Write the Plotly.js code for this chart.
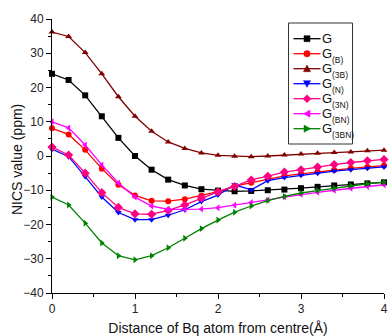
<!DOCTYPE html>
<html>
<head>
<meta charset="utf-8">
<script src="https://cdn.plot.ly/plotly-3.0.1.min.js"></script>
<style>html,body{margin:0;padding:0;background:#fff;}#chart{width:389px;height:336px;}</style>
</head>
<body>
<div id="chart"></div>
<script>
const xDist = [0, 0.2, 0.4, 0.6, 0.8, 1.0, 1.2, 1.4, 1.6, 1.8, 2.0, 2.2, 2.4, 2.6, 2.8, 3.0, 3.2, 3.4, 3.6, 3.8, 4.0];
const seriesBase = ['G', 'G', 'G', 'G', 'G', 'G', 'G'];
const seriesSubs = ['', '(B)', '(3B)', '(N)', '(3N)', '(BN)', '(3BN)'];
const G    = [24.0, 22.2, 17.7, 11.6, 5.3, 0.0, -4.0, -6.9, -8.6, -9.7, -10.1, -10.3, -10.2, -10.0, -9.8, -9.4, -9.0, -8.6, -8.3, -8.0, -7.7];
const G_B  = [8.1, 6.3, 1.8, -3.7, -8.4, -11.5, -13.1, -13.2, -12.6, -11.6, -10.4, -8.8, -7.8, -6.6, -5.8, -5.2, -4.6, -4.1, -3.6, -3.2, -2.8];
const G_3B = [36.2, 34.9, 30.2, 24.0, 17.3, 11.6, 7.2, 4.1, 2.2, 0.9, 0.2, -0.1, -0.2, 0.0, 0.3, 0.6, 0.8, 1.0, 1.2, 1.5, 1.7];
const G_N  = [2.0, -0.2, -6.0, -12.0, -16.5, -18.6, -18.6, -17.3, -15.7, -13.3, -11.4, -8.4, -9.9, -7.2, -6.3, -5.6, -5.0, -4.4, -4.0, -3.6, -3.2];
const G_3N = [2.6, 0.3, -5.0, -10.7, -15.0, -16.9, -17.0, -15.9, -14.3, -12.3, -10.5, -8.9, -7.0, -5.9, -4.7, -4.0, -3.2, -2.5, -1.9, -1.4, -1.0];
const G_BN = [10.0, 8.2, 3.2, -2.6, -7.9, -12.0, -14.6, -15.6, -15.6, -15.5, -15.1, -14.4, -13.6, -12.8, -12.0, -11.2, -10.6, -10.0, -9.4, -8.9, -8.4];
const G_3BN = [-12.0, -14.3, -19.6, -25.4, -29.1, -30.3, -29.1, -26.8, -24.0, -21.2, -18.7, -16.4, -14.6, -13.0, -11.8, -10.8, -10.1, -9.4, -8.7, -8.1, -7.6];

const seriesData = [G, G_B, G_3B, G_N, G_3N, G_BN, G_3BN];
const colors = ['#000000', '#FF0000', '#800000', '#0000FF', '#FF0080', '#FF00FF', '#008000'];
const symbols = ['square', 'circle', 'triangle-up', 'triangle-down', 'diamond', 'triangle-left', 'triangle-right'];
// legend marker outlines in pixels (y up), matching the symbols above
const legendPaths = [
  'M-3,-3H3V3H-3Z',
  null,
  'M-3.6,-3L3.6,-3L0,3.6Z',
  'M-3.6,3L3.6,3L0,-3.6Z',
  'M0,-4L4,0L0,4L-4,0Z',
  'M3,-3.6L3,3.6L-3.6,0Z',
  'M-3,-3.6L-3,3.6L3.6,0Z'
];

const traces = seriesData.map((d, i) => ({
  x: xDist, y: d, name: seriesBase[i] + (seriesSubs[i] ? '<sub>' + seriesSubs[i] + '</sub>' : ''),
  type: 'scatter', mode: 'lines+markers',
  line: {color: colors[i], width: 1.3},
  marker: {color: colors[i], symbol: symbols[i], size: i === 4 ? 7 : 6},
  cliponaxis: false, showlegend: false
}));

// plot area in pixels
const W = 389, H = 336, mL = 52, mR = 5, mT = 19, mB = 43;
const pw = W - mL - mR, ph = H - mT - mB;
const px = p => (p - mL) / pw;
const py = p => (H - mB - p) / ph;

const shapes = [];
const annotations = [];
// legend box
shapes.push({type: 'rect', xref: 'paper', yref: 'paper', x0: px(288.5), x1: px(352.5), y0: py(144), y1: py(23),
  line: {color: '#333', width: 1}, fillcolor: 'rgba(0,0,0,0)'});
seriesBase.forEach((nm, i) => {
  const cy = 38.7 + 15 * i;
  shapes.push({type: 'line', xref: 'paper', yref: 'paper', x0: px(293.5), x1: px(320.5), y0: py(cy), y1: py(cy),
    line: {color: colors[i], width: 1.3}});
  if (legendPaths[i]) {
    shapes.push({type: 'path', xref: 'paper', yref: 'paper', xsizemode: 'pixel', ysizemode: 'pixel',
      xanchor: px(307), yanchor: py(cy), path: legendPaths[i], fillcolor: colors[i], line: {color: colors[i], width: 0.5}});
  } else {
    shapes.push({type: 'circle', xref: 'paper', yref: 'paper', xsizemode: 'pixel', ysizemode: 'pixel',
      xanchor: px(307), yanchor: py(cy), x0: -3.2, x1: 3.2, y0: -3.2, y1: 3.2, fillcolor: colors[i], line: {color: colors[i], width: 0.5}});
  }
  annotations.push({xref: 'paper', yref: 'paper', x: px(321), y: py(cy), xanchor: 'left', yanchor: 'middle',
    text: nm, showarrow: false, font: {size: 13, color: '#111'}, borderpad: 0});
  if (seriesSubs[i]) {
    annotations.push({xref: 'paper', yref: 'paper', x: px(330.5), y: py(cy + 6), xanchor: 'left', yanchor: 'middle',
      text: seriesSubs[i], showarrow: false, font: {size: 8.5, color: '#111'}, borderpad: 0});
  }
});
// y axis title
annotations.push({xref: 'paper', yref: 'paper', x: px(17), y: py(160), xanchor: 'center', yanchor: 'middle',
  text: 'NICS value (ppm)', textangle: -90, showarrow: false, font: {size: 14, color: '#111'}});

const layout = {
  width: W, height: H,
  margin: {l: mL, r: mR, t: mT, b: mB},
  paper_bgcolor: '#fff', plot_bgcolor: '#fff',
  font: {family: 'Liberation Sans, Arial, sans-serif', color: '#222', size: 12},
  showlegend: false,
  shapes: shapes,
  annotations: annotations,
  xaxis: {
    range: [0, 4], dtick: 1, tick0: 0, showgrid: false, zeroline: false,
    showline: true, linecolor: '#000', linewidth: 1,
    ticks: 'outside', ticklen: 5, tickcolor: '#000',
    minor: {ticks: 'outside', ticklen: 3, dtick: 0.5, tickcolor: '#000', showgrid: false},
    tickfont: {size: 12},
    title: {text: 'Distance of Bq atom from centre(Å)', font: {size: 14, color: '#111'}, standoff: 8}
  },
  yaxis: {
    range: [-40, 40], dtick: 10, showgrid: false, zeroline: false,
    showline: true, linecolor: '#000', linewidth: 1,
    ticks: 'outside', ticklen: 5, tickcolor: '#000',
    minor: {ticks: 'outside', ticklen: 3, dtick: 5, tickcolor: '#000', showgrid: false},
    tickfont: {size: 12}
  }
};

Plotly.newPlot('chart', traces, layout, {displayModeBar: false, staticPlot: true});
</script>
</body>
</html>
